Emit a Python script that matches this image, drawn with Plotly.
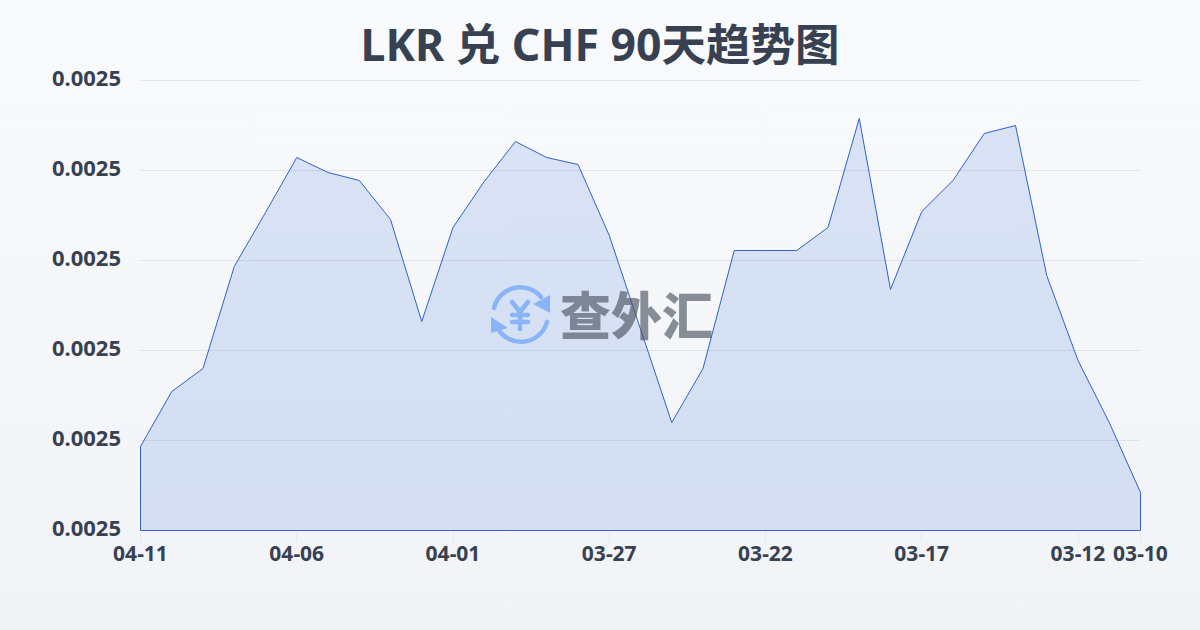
import plotly.graph_objects as go
import urllib.parse

dates = ["04-11","04-10","04-09","04-08","04-07","04-06","04-05","04-04","04-03","04-02","04-01",
         "03-31","03-30","03-29","03-28","03-27","03-26","03-25","03-24","03-23","03-22",
         "03-21","03-20","03-19","03-18","03-17","03-16","03-15","03-14","03-13","03-12","03-11","03-10"]
rates = [0.00248933,0.00249544,0.00249800,0.00250933,0.00251533,0.00252144,0.00251978,0.00251889,
         0.00251456,0.00250322,0.00251367,0.00251878,0.00252322,0.00252144,0.00252067,0.00251278,
         0.00250238,0.00249200,0.00249800,0.00251111,0.00251111,0.00251111,0.00251367,0.00252578,
         0.00250678,0.00251544,0.00251889,0.00252411,0.00252500,0.00250833,0.00249889,0.00249200,0.00248422]
tick_dates = ["04-11","04-06","04-01","03-27","03-22","03-17","03-12","03-10"]
y_base = 0.00248
y_step = 0.00001
title_text = "LKR 兑 CHF 90天趋势图"
watermark = "查外汇"

PX_PER_STEP = 90
PX_PER_DAY = 31.25
Y_RANGE = [y_base - 0.5 / PX_PER_STEP * y_step, y_base + 452.5 / PX_PER_STEP * y_step]
X_RANGE = [-0.5 / PX_PER_DAY, len(dates) - 1 + 0.5 / PX_PER_DAY]

bg_svg = ('<svg xmlns="http://www.w3.org/2000/svg" width="1200" height="630"><defs>'
          '<linearGradient id="g" x1="0" y1="0" x2="0" y2="1"><stop offset="0" stop-color="#f8fafc"/>'
          '<stop offset="1" stop-color="#f1f3f6"/></linearGradient></defs>'
          '<rect width="1200" height="630" fill="url(#g)"/></svg>')
logo_svg = ('<svg xmlns="http://www.w3.org/2000/svg" width="60" height="60" viewBox="0 0 60 60">'
            '<g fill="none" stroke="#8ab4f8" stroke-linecap="round" stroke-linejoin="round">'
            '<g stroke-width="4.5"><path d="M4 23 A27 27 0 0 1 51 12"/><path d="M57 37 A27 27 0 0 1 8 44"/></g>'
            '<path stroke-width="4.6" d="M22 17 L30 27 L38 17 M30 27 V44 M22 30 H38 M22 37 H38"/></g>'
            '<path d="M60 10 L60 28 L43 19 Z" fill="#8ab4f8"/><path d="M1 32 L1 48 L18 43 Z" fill="#8ab4f8"/></svg>')

def uri(s):
    return "data:image/svg+xml," + urllib.parse.quote(s)

W, H = 1001, 453  # plot-area size in pixels, left 140, bottom 531

fig = go.Figure()
fig.add_trace(go.Scatter(
    x=dates + [dates[-1], dates[0], dates[0]],
    y=rates + [y_base, y_base, rates[0]],
    mode="lines",
    line=dict(color="#2f62c8", width=1),
    fill="toself",
    fillcolor="rgba(50,98,218,0.15)",
    cliponaxis=False,
    hoverinfo="skip",
))
fig.update_layout(
    width=1200, height=630,
    margin=dict(l=140, r=59, t=78, b=99),
    paper_bgcolor="rgba(0,0,0,0)", plot_bgcolor="rgba(0,0,0,0)",
    showlegend=False,
    title=dict(text=f"<b>{title_text}</b>", x=0.5, xanchor="center", y=0.928, yanchor="middle",
               font=dict(family="Noto Sans, Noto Sans CJK SC", size=44.5, color="#374151")),
    xaxis=dict(type="category", categoryorder="array", categoryarray=dates, range=X_RANGE,
               tickmode="array", tickvals=tick_dates, ticktext=tick_dates,
               showgrid=False, zeroline=False, showline=False, ticks="outside", ticklen=10, tickwidth=1,
               tickcolor="#e5e7eb", ticklabelstandoff=-6,
               tickfont=dict(family="Noto Sans", size=21, color="#374151", weight="bold")),
    yaxis=dict(range=Y_RANGE, tick0=y_base, dtick=y_step, tickformat=".4f",
               showgrid=True, gridcolor="rgba(200,205,215,0.45)", gridwidth=1, zeroline=False, showline=False,
               ticks="", ticklabelstandoff=18, ticklabelshift=-2,
               tickfont=dict(family="Noto Sans", size=22, color="#374151", weight="bold")),
    images=[
        dict(source=uri(bg_svg), xref="paper", yref="paper", x=-140/W, y=531/H,
             sizex=1200/W, sizey=630/H, sizing="stretch", xanchor="left", yanchor="top", layer="below"),
        dict(source=uri(logo_svg), xref="paper", yref="paper", x=(490-140)/W, y=(531-285)/H,
             sizex=60/W, sizey=60/H, sizing="stretch", xanchor="left", yanchor="top", layer="above"),
    ],
    annotations=[dict(text=watermark, xref="paper", yref="paper", x=(636-140)/W, y=(531-313)/H,
                      xanchor="center", yanchor="middle", showarrow=False,
                      font=dict(family="Noto Sans CJK SC", size=51, weight=900, color="rgba(75,85,99,0.65)"))],
)
fig.write_html("out.html", config=dict(displayModeBar=False),
               post_script="document.body.style.margin='0';")
